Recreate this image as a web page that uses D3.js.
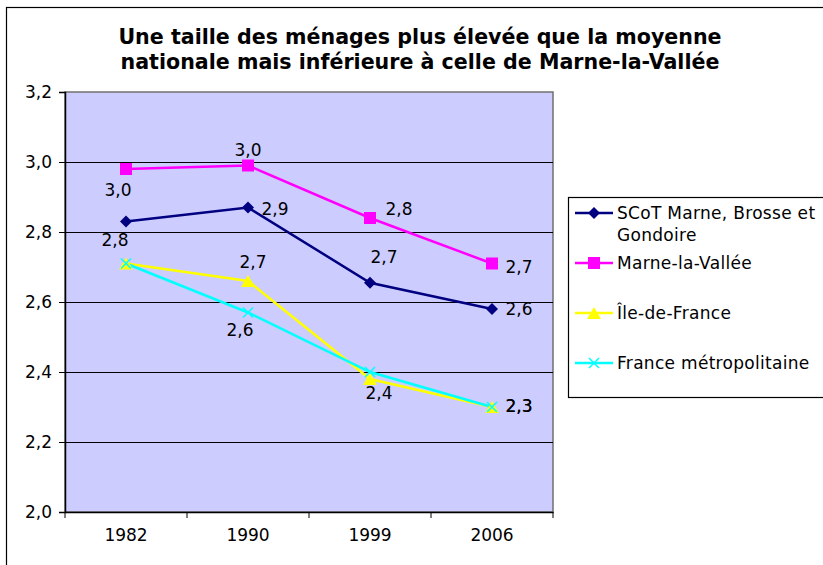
<!DOCTYPE html>
<html><head><meta charset="utf-8">
<script src="https://cdn.jsdelivr.net/npm/d3@7/dist/d3.min.js"></script>
<style>body{margin:0;background:#fff}svg{display:block}</style>
</head><body>
<svg id="c" width="823" height="565"></svg>
<script>
const years = ["1982","1990","1999","2006"];
const seriesNames = ["SCoT Marne, Brosse et Gondoire","Marne-la-Vallée","Île-de-France","France métropolitaine"];
const scot   = [2.83, 2.87, 2.655, 2.58];
const mlv    = [2.98, 2.99, 2.84, 2.71];
const idf    = [2.71, 2.66, 2.38, 2.30];
const france = [2.71, 2.57, 2.40, 2.30];
const yTicks = [2.0, 2.2, 2.4, 2.6, 2.8, 3.0, 3.2];
const titleLines = ["Une taille des ménages plus élevée que la moyenne","nationale mais inférieure à celle de Marne-la-Vallée"];

// data-label offsets from the marker: [dx of text centre, dy of baseline]; null = no label (layout only)
const labelOffsets = [
  [[-11,24],[27,7],[14,-20],[27,6]],
  [[-8,27],[0,-10],[29,-3],[27,9]],
  [null,[5,-13],[9,20],[27,5]],
  [null,[-8,23],null,[27,5]]
];
const colors = ["#000080","#ff00ff","#ffff00","#00ffff"];
const symbols = ["diamond","square","triangle","x"];
const allValues = [scot, mlv, idf, france];

const svg = d3.select("#c");
const font = "DejaVu Sans, Verdana, sans-serif";

// outer frame
svg.append("rect").attr("x",6.5).attr("y",7.5).attr("width",900).attr("height",700)
  .attr("fill","#fff").attr("stroke","#000").attr("stroke-width",1.2);

// title
svg.append("g").selectAll("text").data(titleLines).join("text")
  .attr("x",420).attr("y",(d,i)=>44+i*25).attr("text-anchor","middle")
  .attr("font-family",font).attr("font-weight","bold").attr("font-size",20.6)
  .attr("fill","#000").text(d=>d);

const L=65, R=553, T=92, B=512;
const x = d3.scaleBand().domain(years).range([L,R]);
const y = d3.scaleLinear().domain([2.0,3.2]).range([B,T]);

svg.append("rect").attr("x",L).attr("y",T).attr("width",R-L).attr("height",B-T)
  .attr("fill","#ccccff").attr("stroke","#707070").attr("stroke-width",1.5);

// gridlines
svg.append("g").selectAll("line").data(yTicks.slice(1,-1)).join("line")
  .attr("x1",L).attr("x2",R).attr("y1",d=>Math.round(y(d))+0.5).attr("y2",d=>Math.round(y(d))+0.5)
  .attr("stroke","#000").attr("stroke-width",1);

const fmt = v=>d3.format(".1f")(v).replace(".",",");

// y axis
const yAxis = d3.axisLeft(y).tickValues(yTicks).tickSize(6).tickPadding(7).tickFormat(fmt);
const gy = svg.append("g").attr("transform",`translate(${L},0)`).call(yAxis);
gy.select(".domain").attr("stroke","#000").attr("stroke-width",1.5);
gy.selectAll(".tick line").attr("stroke","#000");
gy.selectAll("text").attr("font-family",font).attr("font-size",17).attr("fill","#000");

// x axis
const xAxis = d3.axisBottom(x).tickSize(0).tickPadding(17);
const gx = svg.append("g").attr("transform",`translate(0,${B})`).call(xAxis);
gx.select(".domain").attr("stroke","#000").attr("stroke-width",1.5);
gx.selectAll("text").attr("font-family",font).attr("font-size",17).attr("fill","#000");
// x tick marks at band boundaries
const bounds = years.map(d=>x(d)).concat([R]);
svg.append("g").selectAll("line").data(bounds).join("line")
  .attr("x1",d=>d).attr("x2",d=>d)
  .attr("y1",B).attr("y2",B+6).attr("stroke","#000");

const cx = d=>x(d)+x.bandwidth()/2;
const line = d3.line().x((v,i)=>cx(years[i])).y(v=>y(v));

function drawSymbol(g, type, color, px, py){
  if(type==="diamond"){
    g.append("path").attr("d",`M${px},${py-6}L${px+6},${py}L${px},${py+6}L${px-6},${py}Z`).attr("fill",color);
  } else if(type==="square"){
    g.append("rect").attr("x",px-6).attr("y",py-6).attr("width",12).attr("height",12).attr("fill",color);
  } else if(type==="triangle"){
    g.append("path").attr("d",`M${px},${py-6}L${px+7},${py+6}L${px-7},${py+6}Z`).attr("fill",color);
  } else {
    g.append("path").attr("d",`M${px-5},${py-5}L${px+5},${py+5}M${px-5},${py+5}L${px+5},${py-5}`)
      .attr("stroke",color).attr("stroke-width",1.5).attr("fill","none");
  }
}

const gLines = svg.append("g");
allValues.forEach((vals,si)=>{
  gLines.append("path").datum(vals).attr("d",line).attr("fill","none")
    .attr("stroke",colors[si]).attr("stroke-width",2.5);
});
const gSym = svg.append("g");
allValues.forEach((vals,si)=>{
  vals.forEach((v,i)=>drawSymbol(gSym,symbols[si],colors[si],cx(years[i]),y(v)));
});

// data labels
const gLab = svg.append("g").attr("font-family",font).attr("font-size",17).attr("fill","#000")
  .attr("text-anchor","middle");
allValues.forEach((vals,si)=>{
  vals.forEach((v,i)=>{
    const o = labelOffsets[si][i]; if(!o) return;
    gLab.append("text").attr("x",cx(years[i])+o[0]).attr("y",y(v)+o[1]).text(fmt(v));
  });
});

// legend
const lg = svg.append("g");
lg.append("rect").attr("x",568.5).attr("y",197.5).attr("width",300).attr("height",200)
  .attr("fill","#fff").attr("stroke","#000").attr("stroke-width",1.2);
const legY = [213, 263, 313, 363];
seriesNames.forEach((n,si)=>{
  const yy = legY[si];
  lg.append("line").attr("x1",575).attr("x2",613).attr("y1",yy).attr("y2",yy)
    .attr("stroke",colors[si]).attr("stroke-width",2.5);
  drawSymbol(lg,symbols[si],colors[si],594,yy);
  const t = lg.append("text").attr("x",617).attr("y",yy+6).attr("font-family",font)
    .attr("font-size",17).attr("letter-spacing",0.3).attr("fill","#000");
  if(si===0){
    t.append("tspan").attr("x",617).text("SCoT Marne, Brosse et");
    t.append("tspan").attr("x",617).attr("dy",22).text("Gondoire");
  } else t.text(n);
});
</script>
</body></html>
